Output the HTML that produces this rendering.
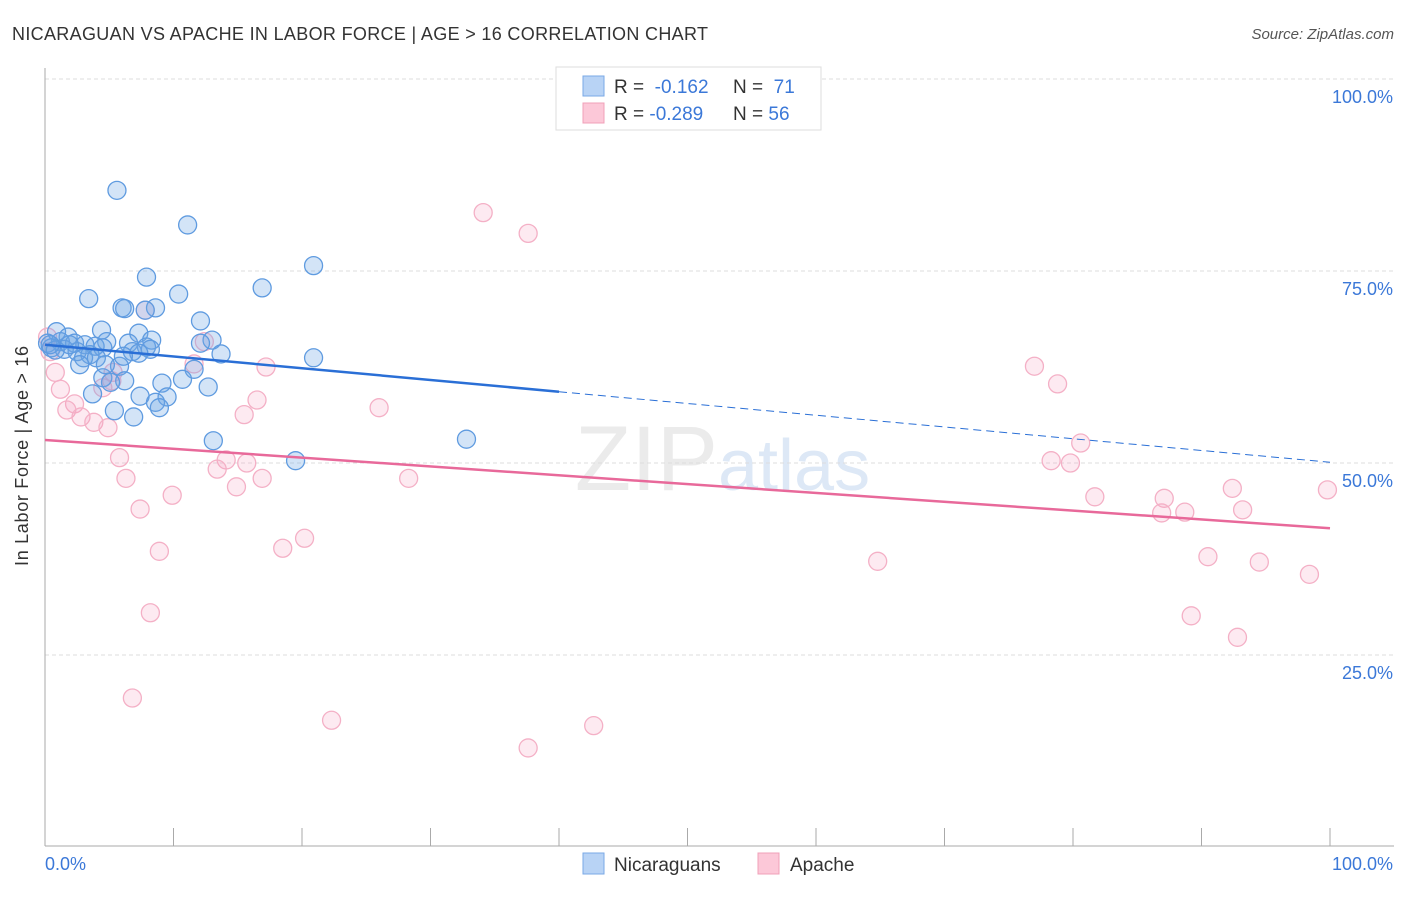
<!DOCTYPE html>
<html><head><meta charset="utf-8"><style>
body{margin:0;background:#fff;font-family:"Liberation Sans",sans-serif}
svg text{font-family:"Liberation Sans",sans-serif}
</style></head><body>
<svg id="c" width="1406" height="892">
<text x="12" y="40" font-size="18" fill="#333" textLength="696" lengthAdjust="spacing">NICARAGUAN VS APACHE IN LABOR FORCE | AGE &gt; 16 CORRELATION CHART</text>
<text x="1394" y="39" font-size="15" fill="#555" font-style="italic" text-anchor="end">Source: ZipAtlas.com</text>
<text x="718" y="490" font-size="92" fill="#ebebeb" text-anchor="end" font-family="Liberation Serif">ZIP</text>
<text x="718" y="490" font-size="72" fill="#dde8f6">atlas</text>
<g id="grid"></g>
<line x1="45" y1="68" x2="45" y2="846" stroke="#aaa"/>
<line x1="45" y1="846" x2="1394" y2="846" stroke="#aaa"/>
<text x="28" y="456" font-size="18" fill="#333" text-anchor="middle" transform="rotate(-90 28 456)" textLength="220" lengthAdjust="spacing">In Labor Force | Age &gt; 16</text>
<text x="45" y="870" font-size="18" fill="#3b78d8">0.0%</text>
<text x="1393" y="870" font-size="18" fill="#3b78d8" text-anchor="end">100.0%</text>
<g id="pts"></g>
<g id="trend"></g>
<g>
<rect x="556" y="67" width="265" height="63" fill="#fff" stroke="#ddd"/>
<rect x="583" y="76" width="21" height="20" fill="#b8d3f5" stroke="#7aa8e6"/>
<rect x="583" y="103" width="21" height="20" fill="#fcc8d8" stroke="#f0a0b8"/>
<text x="614" y="93" font-size="19" fill="#333">R = <tspan fill="#3b78d8">&#160;-0.162</tspan><tspan x="733">N = </tspan><tspan fill="#3b78d8">&#160;71</tspan></text>
<text x="614" y="120" font-size="19" fill="#333">R = <tspan fill="#3b78d8">-0.289</tspan><tspan x="733">N = </tspan><tspan fill="#3b78d8">56</tspan></text>
</g>
<rect x="583" y="853" width="21" height="21" fill="#b8d3f5" stroke="#7aa8e6"/>
<text x="614" y="871" font-size="19" fill="#333">Nicaraguans</text>
<rect x="758" y="853" width="21" height="21" fill="#fcc8d8" stroke="#f0a0b8"/>
<text x="790" y="871" font-size="19" fill="#333">Apache</text>
</svg>
<script>
const yTicks=[25,50,75,100];
const yTickLabels=["25.0%","50.0%","75.0%","100.0%"];
const xMinorTicks=[0,10,20,30,40,50,60,70,80,90,100];
const nicX=[5.6,11.1,20.9,7.9,16.9,10.4,3.4,6.0,6.2,8.6,7.8,12.1,4.4,7.3,0.9,1.8,8.3,13.0,4.8,6.5,12.1,0.2,1.2,2.3,3.1,3.9,4.5,7.9,8.2,6.8,7.3,13.7,1.5,0.5,2.5,3.5,3.0,4.0,20.9,2.7,5.8,11.6,10.7,9.1,4.5,6.2,5.1,12.7,3.7,7.4,9.5,8.6,8.9,5.4,6.9,13.1,32.8,19.5,0.8,1.9,0.4,4.7,6.1];
const nicY=[85.5,81.0,75.7,74.2,72.8,72.0,71.4,70.2,70.1,70.2,69.9,68.5,67.3,66.9,67.1,66.4,66.0,66.0,65.8,65.6,65.6,65.6,65.8,65.6,65.4,65.2,65.0,65.1,64.8,64.5,64.3,64.2,64.8,65.0,64.5,64.1,63.7,63.7,63.7,62.8,62.6,62.2,60.9,60.4,61.1,60.7,60.5,59.9,59.0,58.7,58.6,57.9,57.2,56.8,56.0,52.9,53.1,50.3,64.7,65.4,65.4,62.8,63.9];
const apaX=[34.1,37.6,7.8,12.4,0.2,0.4,0.8,5.3,11.6,17.2,77.0,78.8,1.2,4.5,5.2,16.5,2.3,1.7,15.5,26.0,2.8,3.8,4.9,80.6,5.8,14.1,15.7,78.3,79.8,13.4,6.3,16.9,28.3,14.9,9.9,81.7,87.1,92.4,99.8,7.4,86.9,88.7,93.2,20.2,18.5,8.9,64.8,90.5,94.5,98.4,8.2,89.2,92.8,6.8,22.3,42.7,37.6];
const apaY=[82.6,79.9,69.9,65.8,66.4,64.5,61.8,61.8,62.9,62.5,62.6,60.3,59.6,59.8,60.7,58.2,57.7,56.9,56.3,57.2,56.0,55.3,54.6,52.6,50.7,50.4,50.0,50.3,50.0,49.2,48.0,48.0,48.0,46.9,45.8,45.6,45.4,46.7,46.5,44.0,43.5,43.6,43.9,40.2,38.9,38.5,37.2,37.8,37.1,35.5,30.5,30.1,27.3,19.4,16.5,15.8,12.9];
const nicTrend=[65.4,50.1];
const apaTrend=[53.0,41.5];
const nicSolidEnd=40;
const NS="http://www.w3.org/2000/svg";
const sx=v=>45+v*12.85, sy=v=>847-v*7.68;
function mk(t,a,p){const e=document.createElementNS(NS,t);for(const k in a)e.setAttribute(k,a[k]);p.appendChild(e);return e;}
const grid=document.getElementById('grid');
yTicks.forEach((t,i)=>{
 const l=mk('line',{x1:45,x2:1394,y1:sy(t),y2:sy(t),stroke:'#ddd','stroke-dasharray':'4 3'},grid);
 
 
 const tx=mk('text',{x:1393,y:sy(t)+24,'font-size':18,fill:'#3b78d8','text-anchor':'end'},grid);
 tx.textContent=yTickLabels[i];
 
 
});
xMinorTicks.forEach(t=>{
 const l=mk('line',{x1:sx(t),x2:sx(t),y1:828,y2:846,stroke:'#aaa'},grid);
 
 
});
const pts=document.getElementById('pts');
apaX.forEach((x,i)=>{
 const c=mk('circle',{cx:sx(x),cy:sy(apaY[i]),r:9,fill:'rgba(246,160,190,0.22)',stroke:'#f4b0c6','stroke-width':1.3},pts);
 
 
});
nicX.forEach((x,i)=>{
 const c=mk('circle',{cx:sx(x),cy:sy(nicY[i]),r:9,fill:'rgba(110,165,230,0.3)',stroke:'#5f9be0','stroke-width':1.3},pts);
 
 
});
const tr=document.getElementById('trend');
const ny=x=>nicTrend[0]+(nicTrend[1]-nicTrend[0])*x/100;
let a=mk('line',{x1:sx(0),y1:sy(ny(0)),x2:sx(nicSolidEnd),y2:sy(ny(nicSolidEnd)),stroke:'#2a6fd6','stroke-width':2.5},tr);


let b=mk('line',{x1:sx(nicSolidEnd),y1:sy(ny(nicSolidEnd)),x2:sx(100),y2:sy(ny(100)),stroke:'#2a6fd6','stroke-width':1,'stroke-dasharray':'8 5'},tr);


let p=mk('line',{x1:sx(0),y1:sy(apaTrend[0]),x2:sx(100),y2:sy(apaTrend[1]),stroke:'#e8699a','stroke-width':2.5},tr);


</script>
</body></html>
